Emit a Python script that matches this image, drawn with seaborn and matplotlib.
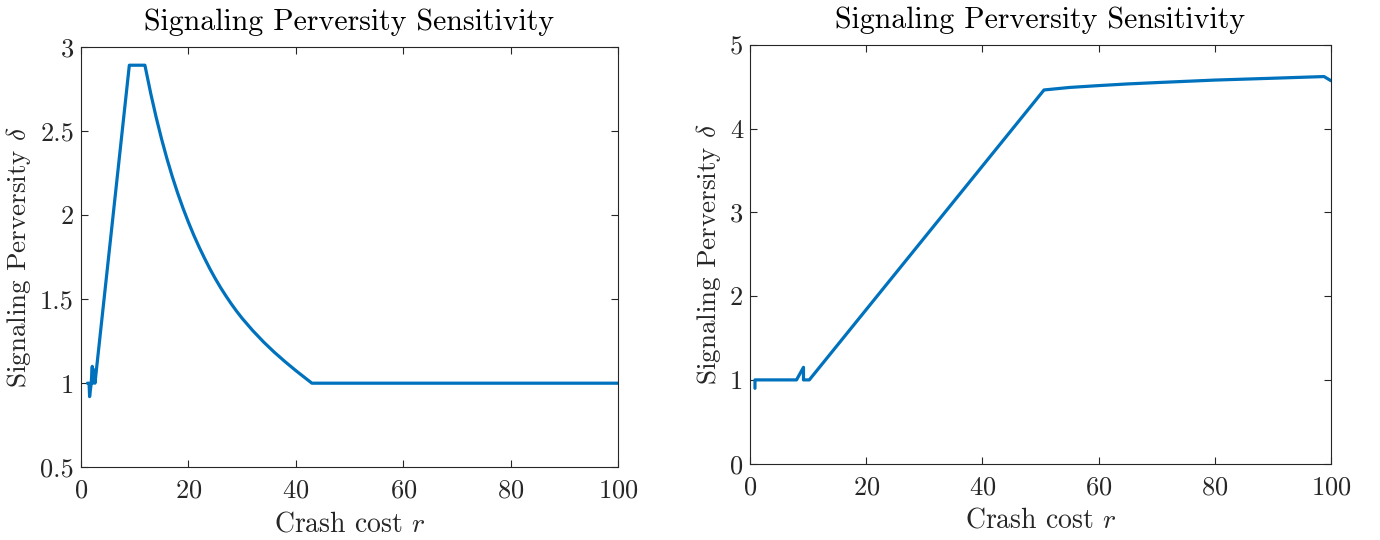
import matplotlib
matplotlib.use("Agg")
import matplotlib.pyplot as plt
import seaborn as sns
import pandas as pd

# crash cost r and signaling perversity delta, left panel
r_left = [1.2, 1.5, 1.6, 1.9, 2.1, 2.2, 2.4, 2.6, 9.0, 11.9,
          13, 14, 15, 16, 17, 18, 19, 20, 21, 22, 23, 24, 25, 26, 27, 28, 29, 30,
          32, 34, 36, 38, 40, 42, 43.0, 100.0]
delta_left = [1.0, 1.0, 0.92, 1.0, 1.10, 1.0, 1.08, 1.0, 2.89, 2.89,
              2.72, 2.58, 2.452, 2.335, 2.228, 2.13, 2.04, 1.957, 1.88, 1.809, 1.743,
              1.68, 1.622, 1.568, 1.518, 1.471, 1.427, 1.386,
              1.312, 1.245, 1.184, 1.128, 1.075, 1.025, 1.0, 1.0]

# right panel
r_right = [0.85, 0.85, 8.0, 9.2, 9.2, 10.2, 50.6, 55.0, 60.0, 65.0, 70.0, 80.0,
           90.0, 98.8, 100.0]
delta_right = [0.90, 1.0, 1.0, 1.15, 1.0, 1.0, 4.46, 4.49, 4.512, 4.532, 4.548,
               4.578, 4.60, 4.62, 4.57]

sns.set_theme(style="ticks")
plt.rcParams["font.family"] = ["cmr10", "DejaVu Serif"]
plt.rcParams["mathtext.fontset"] = "cm"
plt.rcParams["axes.formatter.use_mathtext"] = True

line_color = "#0072BD"
edge = "#262626"

fig = plt.figure(figsize=(13.8, 5.4), dpi=100)
ax1 = fig.add_axes([0.0587, 0.1346, 0.3891, 0.7789])
ax2 = fig.add_axes([0.5435, 0.1413, 0.4210, 0.7759])

panels = [
    (ax1, r_left, delta_left, (0.5, 3), [0.5, 1, 1.5, 2, 2.5, 3]),
    (ax2, r_right, delta_right, (0, 5), [0, 1, 2, 3, 4, 5]),
]

for ax, r, d, ylim, yticks in panels:
    df = pd.DataFrame({"r": r, "delta": d})
    sns.lineplot(data=df, x="r", y="delta", ax=ax, estimator=None, sort=False,
                 color=line_color, linewidth=2.3)
    ax.set_xlim(0, 100)
    ax.set_ylim(*ylim)
    ax.set_xticks([0, 20, 40, 60, 80, 100])
    ax.set_yticks(yticks)
    ax.set_yticklabels([f"{t:g}" for t in yticks])
    ax.tick_params(direction="in", length=5, width=0.8, colors=edge,
                   labelsize=19, top=True, right=True)
    ax.tick_params(axis="x", pad=8.5)
    ax.tick_params(axis="y", pad=5)
    for sp in ax.spines.values():
        sp.set_visible(True)
        sp.set_color(edge)
        sp.set_linewidth(0.8)
    ax.set_xlabel(r"Crash cost $r$", fontsize=20, color=edge, labelpad=6)
    ax.set_ylabel(r"Signaling Perversity $\delta$", fontsize=19.5, color=edge, labelpad=5)
    ax.set_title("Signaling Perversity Sensitivity", fontsize=21.5, color="black", pad=12)

fig.savefig("out.png", dpi=100)
